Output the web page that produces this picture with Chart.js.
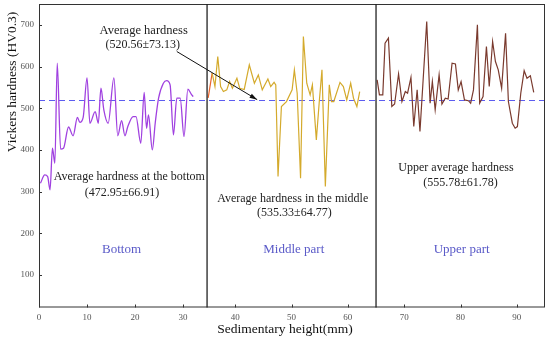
<!DOCTYPE html>
<html>
<head>
<meta charset="utf-8">
<script src="https://cdn.jsdelivr.net/npm/chart.js@4/dist/chart.umd.min.js"></script>
<style>
  html, body { margin: 0; padding: 0; background: #fff; }
</style>
</head>
<body>
<canvas id="myChart" width="550" height="345"></canvas>
<script>
// Chart values
const bottomX = [0.3, 1.2, 1.8, 2.3, 2.8, 3.3, 3.8, 4.5, 5.1, 6.15, 7.1, 8.0, 8.5, 9.2, 10.0, 10.6, 11.7, 12.35, 12.9, 13.5, 14.4, 15.6, 16.4, 17.2, 17.9, 18.5, 19.6, 20.2, 21.2, 21.9, 22.4, 22.8, 23.6, 24.2, 24.9, 25.9, 26.6, 27.3, 28.0, 28.7, 29.4, 30.2, 31.0, 31.7, 32.1];
const bottomY = [320, 340, 336, 304, 404, 368, 608, 402, 404, 455, 434, 478, 466, 478, 573, 464, 492, 464, 548, 496, 464, 573, 434, 470, 434, 456, 480, 480, 416, 538, 452, 484, 400, 464, 524, 560, 566, 556, 436, 524, 524, 432, 546, 534, 528];

const middleX = [35.2, 35.9, 36.4, 36.9, 37.4, 37.9, 38.5, 39.0, 39.5, 40.3, 40.8, 41.6, 42.5, 43.4, 44.1, 44.8, 45.8, 46.3, 46.9, 47.2, 47.6, 48.2, 49.1, 50.1, 50.5, 51.0, 51.6, 52.1, 52.7, 53.3, 53.7, 54.4, 54.9, 55.4, 56.0, 56.7, 57.1, 57.5, 58.6, 59.2, 59.8, 60.5, 61.0, 61.6, 62.1];
const middleY = [525, 584, 552, 624, 552, 540, 544, 564, 548, 572, 548, 545, 604, 560, 580, 544, 570, 552, 562, 556, 336, 504, 516, 544, 592, 536, 332, 672, 560, 532, 556, 424, 512, 592, 312, 556, 516, 516, 562, 552, 520, 560, 524, 504, 540];

const upperX = [65.2, 65.6, 66.2, 66.6, 67.2, 67.8, 68.3, 69.0, 69.6, 70.2, 70.6, 71.2, 71.7, 72.3, 72.8, 74.0, 74.6, 75.0, 75.5, 76.2, 76.7, 77.3, 77.8, 78.5, 79.1, 79.6, 80.1, 80.7, 81.4, 81.8, 82.3, 83.0, 83.4, 84.0, 84.6, 85.1, 85.7, 86.2, 86.7, 87.3, 88.0, 88.5, 89.2, 89.7, 90.1, 90.7, 91.3, 91.8, 92.4, 93.0];
const upperY = [568, 532, 532, 656, 668, 504, 510, 582, 516, 540, 536, 574, 456, 544, 444, 708, 512, 564, 496, 580, 510, 524, 522, 608, 606, 544, 564, 520, 518, 512, 544, 700, 512, 528, 648, 552, 660, 612, 592, 548, 680, 516, 464, 452, 456, 536, 590, 572, 578, 538];

const averageAll = 520.56;
const dividers = [35, 65];
const xTicksBottom = [0, 10, 20, 30];
const xTicksRest = [40, 50, 60, 70, 80, 90];
const yTicks = [100, 200, 300, 400, 500, 600, 700];

const serif = "'Liberation Serif', 'Times New Roman', serif";

// annotation texts: [text, axis, x, y, colour, size]
const notes = [
  ['Average hardness', 'x1', 21.8, 686, '#222', 12.5],
  ['(520.56\u00B173.13)', 'x1', 21.6, 652, '#222', 12],
  ['Average hardness at the bottom', 'x1', 18.8, 335, '#222', 12],
  ['(472.95\u00B166.91)', 'x1', 17.3, 298, '#222', 12],
  ['Average hardness in the middle', 'x2', 50.2, 282, '#222', 12],
  ['(535.33\u00B164.77)', 'x2', 50.5, 248, '#222', 12],
  ['Upper average hardness', 'x2', 79.2, 358, '#222', 12],
  ['(555.78\u00B161.78)', 'x2', 80.0, 320, '#222', 12],
  ['Bottom', 'x1', 17.2, 160, '#5a5ac8', 13],
  ['Middle part', 'x2', 50.4, 160, '#5a5ac8', 13],
  ['Upper part', 'x2', 80.2, 160, '#5a5ac8', 13]
];

function toPoints(xs, ys) {
  return xs.map((x, i) => ({x: x, y: ys[i]}));
}

const decor = {
  id: 'decor',
  beforeDatasetsDraw(chart) {
    const c = chart.ctx, a = chart.chartArea, y = chart.scales.y;
    const py = Math.round(y.getPixelForValue(averageAll)) + 0.5;
    c.save();
    c.strokeStyle = '#5c5cf0';
    c.lineWidth = 1.1;
    c.setLineDash([6, 4]);
    c.beginPath();
    c.moveTo(a.left, py);
    c.lineTo(a.right, py);
    c.stroke();
    c.restore();
  },
  afterDraw(chart) {
    const c = chart.ctx, a = chart.chartArea;
    const s = chart.scales;
    c.save();
    // frame
    c.strokeStyle = '#333';
    c.lineWidth = 1;
    c.strokeRect(a.left + 0.5, a.top + 0.5, a.right - a.left - 1, a.bottom - a.top - 1);
    // inward ticks
    c.beginPath();
    s.y.ticks.forEach(t => {
      const p = Math.round(s.y.getPixelForValue(t.value)) + 0.5;
      c.moveTo(a.left, p); c.lineTo(a.left + 3, p);
    });
    ['x1', 'x2'].forEach(id => {
      s[id].ticks.forEach(t => {
        const p = Math.round(s[id].getPixelForValue(t.value)) + 0.5;
        c.moveTo(p, a.bottom); c.lineTo(p, a.bottom - 3);
      });
    });
    c.stroke();
    // divider lines
    c.strokeStyle = '#222';
    c.lineWidth = 1.3;
    dividers.forEach(v => {
      const p = s.x2.getPixelForValue(v);
      c.beginPath();
      c.moveTo(p, a.top); c.lineTo(p, a.bottom);
      c.stroke();
    });
    // arrow
    const x0 = s.x1.getPixelForValue(28.7), y0 = s.y.getPixelForValue(636);
    const x1 = s.x2.getPixelForValue(43.9), y1 = s.y.getPixelForValue(averageAll);
    c.strokeStyle = '#111';
    c.lineWidth = 1;
    c.beginPath();
    c.moveTo(x0, y0); c.lineTo(x1, y1);
    c.stroke();
    const ang = Math.atan2(y1 - y0, x1 - x0);
    c.fillStyle = '#111';
    c.beginPath();
    c.moveTo(x1, y1);
    c.lineTo(x1 - 8 * Math.cos(ang - 0.3), y1 - 8 * Math.sin(ang - 0.3));
    c.lineTo(x1 - 8 * Math.cos(ang + 0.3), y1 - 8 * Math.sin(ang + 0.3));
    c.closePath();
    c.fill();
    // texts
    c.textAlign = 'center';
    c.textBaseline = 'middle';
    notes.forEach(n => {
      c.fillStyle = n[4];
      c.font = n[5] + 'px ' + serif;
      c.fillText(n[0], s[n[1]].getPixelForValue(n[2]), s.y.getPixelForValue(n[3]));
    });
    // axis titles
    c.fillStyle = '#111';
    c.font = '13.5px ' + serif;
    c.fillText('Sedimentary height(mm)', 285, 329);
    c.translate(12, 82);
    c.rotate(-Math.PI / 2);
    c.fillText('Vickers hardness (HV0.3)', 0, 0);
    c.restore();
  }
};

const tickFont = {family: serif, size: 9};

function fitX(sc) {
  sc.height = 37.5;
  sc.paddingLeft = 0;
  sc.paddingRight = 0;
}

const ctx = document.getElementById('myChart');

let myChart = new Chart(ctx, {
  type: 'line',
  data: {
    datasets: [{
      data: toPoints(bottomX, bottomY),
      xAxisID: 'x1',
      borderColor: '#a041e0',
      borderWidth: 1.3,
      cubicInterpolationMode: 'monotone',
      pointRadius: 0
    }, {
      data: toPoints(middleX, middleY),
      xAxisID: 'x2',
      borderColor: '#d4aa2c',
      borderWidth: 1.2,
      tension: 0,
      pointRadius: 0,
      segment: {
        borderColor: c => c.p0DataIndex === 0 ? '#e8642c' : undefined
      }
    }, {
      data: toPoints(upperX, upperY),
      xAxisID: 'x2',
      borderColor: '#7a3a2e',
      borderWidth: 1.2,
      tension: 0,
      pointRadius: 0
    }]
  },
  options: {
    responsive: false,
    animation: false,
    layout: {padding: {top: 4, right: 5, left: 0, bottom: 0}},
    plugins: {legend: {display: false}, tooltip: {enabled: false}},
    scales: {
      x1: {
        type: 'linear', position: 'bottom', stack: 'xs', stackWeight: 35 * 4.8,
        min: 0, max: 35,
        grid: {display: false, drawTicks: false},
        border: {display: false},
        afterBuildTicks: sc => { sc.ticks = xTicksBottom.map(v => ({value: v})); },
        afterFit: fitX,
        ticks: {font: tickFont, color: '#555', padding: 5, maxRotation: 0}
      },
      x2: {
        type: 'linear', position: 'bottom', stack: 'xs', stackWeight: 60 * 5.63,
        min: 35, max: 95,
        grid: {display: false, drawTicks: false},
        border: {display: false},
        afterBuildTicks: sc => { sc.ticks = xTicksRest.map(v => ({value: v})); },
        afterFit: fitX,
        ticks: {font: tickFont, color: '#555', padding: 5, maxRotation: 0}
      },
      y: {
        min: 22, max: 750,
        grid: {display: false, drawTicks: false},
        border: {display: false},
        afterBuildTicks: sc => { sc.ticks = yTicks.map(v => ({value: v})); },
        afterFit: sc => { sc.width = 39; sc.paddingTop = 0; sc.paddingBottom = 0; },
        ticks: {font: tickFont, color: '#555', padding: 5}
      }
    }
  },
  plugins: [decor]
});
</script>
</body>
</html>
